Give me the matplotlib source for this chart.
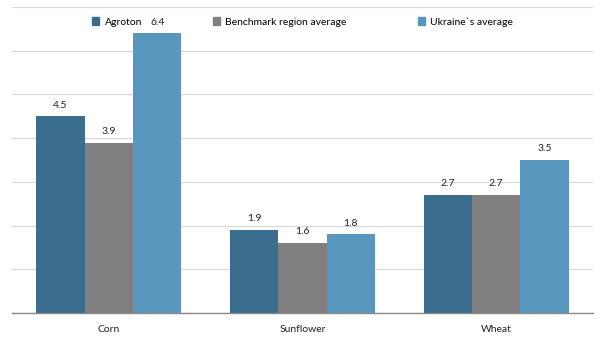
import numpy as np
import matplotlib
matplotlib.use("Agg")
import matplotlib.pyplot as plt
from matplotlib.patches import Patch

plt.rcParams['font.family'] = ['Lato', 'DejaVu Sans']

crops = ['Corn', 'Sunflower', 'Wheat']
series = ['Agroton', 'Benchmark region average', 'Ukraine`s average']
agroton = [4.5, 1.9, 2.7]
benchmark = [3.9, 1.6, 2.7]
ukraine = [6.4, 1.8, 3.5]
colors = ['#3a6d8e', '#808080', '#5a97bf']

fig = plt.figure(figsize=(6.05, 3.40), dpi=100)
ax = fig.add_axes([12/605, 1-313/340, 581/605, 306/340])

x = np.arange(len(crops))
w = 0.25
for i, (vals, c) in enumerate(zip([agroton, benchmark, ukraine], colors)):
    pos = x + (i - 1) * w
    ax.bar(pos, vals, width=w, color=c, zorder=2)
    for p, v in zip(pos, vals):
        ax.text(p, v + 0.15, f'{v:.1f}', ha='center', va='bottom', fontsize=7.5, color='#222222')

ax.set_xlim(-0.5, 2.5)
ax.set_ylim(0, 7)
ax.set_yticks(np.arange(0, 8, 1))
ax.yaxis.grid(True, color='#d9d9d9', linewidth=0.9, zorder=0)
ax.tick_params(axis='y', left=False, labelleft=False)
ax.tick_params(axis='x', bottom=False, labelsize=7.5, pad=5, colors='#222222')
ax.set_xticks(x)
ax.set_xticklabels(crops)
for s in ['top', 'right', 'left']:
    ax.spines[s].set_visible(False)
ax.spines['bottom'].set_color('#888888')
ax.spines['bottom'].set_linewidth(1.0)

handles = [Patch(color=c, label=s) for c, s in zip(colors, series)]
fig.legend(handles=handles, loc='center', bbox_to_anchor=(0.5, 1-22/340), ncol=3,
           frameon=False, fontsize=7.5, handlelength=0.7, handleheight=0.7,
           handletextpad=0.5, columnspacing=6.8)

fig.savefig('out.png', dpi=100)
